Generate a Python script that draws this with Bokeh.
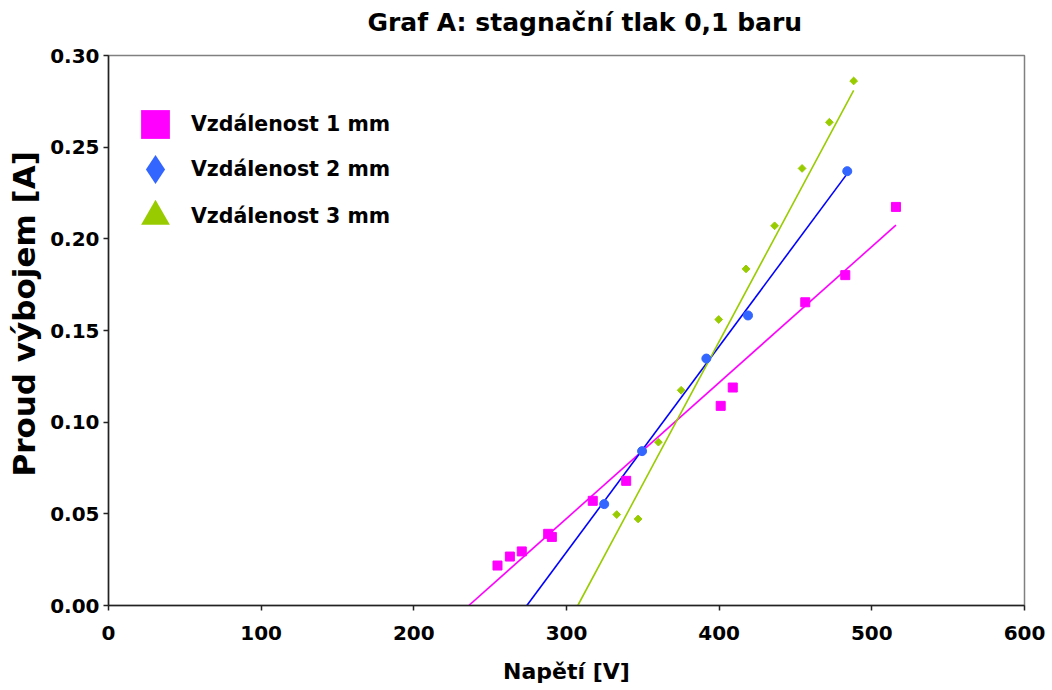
import numpy as np
from bokeh.plotting import figure
from bokeh.models import (Range1d, Legend, LegendItem, FixedTicker, PrintfTickFormatter, Title)
from bokeh.embed import file_html
from bokeh.resources import INLINE

title_text = "Graf A: stagnační tlak 0,1 baru"
x_label = "Napětí [V]"
y_label = "Proud výbojem [A]"
series_names = ["Vzdálenost 1 mm", "Vzdálenost 2 mm", "Vzdálenost 3 mm"]

# Vzdálenost 1 mm
u1 = [254.8, 262.9, 270.7, 288.0, 290.4, 317.2, 339.1, 401.0, 408.9, 456.4, 482.6, 515.8]
i1 = [0.0218, 0.0267, 0.0295, 0.0391, 0.0374, 0.0571, 0.0680, 0.1089, 0.1189, 0.1654, 0.1802, 0.2174]
# Vzdálenost 2 mm
u2 = [324.7, 349.5, 391.6, 418.9, 483.9]
i2 = [0.0553, 0.0842, 0.1347, 0.1582, 0.2369]
# Vzdálenost 3 mm
u3 = [332.9, 346.9, 360.2, 375.1, 399.7, 417.6, 436.3, 454.3, 472.2, 488.1]
i3 = [0.0496, 0.0472, 0.0891, 0.1174, 0.1560, 0.1836, 0.2071, 0.2384, 0.2636, 0.2861]

# linear trend lines (slope, intercept)
trend_slope = [0.0007415, 0.0011225, 0.001555]
trend_intercept = [-0.1750, -0.3076, -0.4780]

x_ticks = [0, 100, 200, 300, 400, 500, 600]
y_ticks = [0.0, 0.05, 0.10, 0.15, 0.20, 0.25, 0.30]

FONT = "DejaVu Sans"

p = figure(width=1052, height=690, output_backend="svg", toolbar_location=None,
           x_range=Range1d(0, 600), y_range=Range1d(0, 0.30),
           min_border_left=108, min_border_right=28, min_border_top=55, min_border_bottom=85,
           background_fill_color="white", border_fill_color="white")

# blank spacer between plot area and title, then the title itself
p.add_layout(Title(text=" ", text_font=FONT, text_font_size="10px", standoff=6), "above")
p.add_layout(Title(text=title_text, text_font=FONT, text_font_size="25px", text_font_style="bold",
                   text_color="black", align="left", offset=259, standoff=0), "above")

p.xgrid.visible = False
p.ygrid.visible = False
p.outline_line_color = "#808080"
p.outline_line_width = 1.5

for ax in (p.xaxis[0], p.yaxis[0]):
    ax.axis_line_color = "#222222"
    ax.axis_line_width = 1.5
    ax.major_tick_line_color = "#222222"
    ax.major_tick_line_width = 1.5
    ax.major_tick_out = 5
    ax.major_tick_in = 0
    ax.minor_tick_line_color = None
    ax.major_label_text_font = FONT
    ax.major_label_text_font_size = "20px"
    ax.major_label_text_font_style = "bold"
    ax.major_label_text_color = "black"
    ax.axis_label_text_font = FONT
    ax.axis_label_text_font_style = "bold"
    ax.axis_label_text_color = "black"

p.xaxis[0].ticker = FixedTicker(ticks=x_ticks)
p.yaxis[0].ticker = FixedTicker(ticks=y_ticks)
p.xaxis[0].formatter = PrintfTickFormatter(format="%d")
p.yaxis[0].formatter = PrintfTickFormatter(format="%.2f")
p.xaxis[0].axis_label = x_label
p.xaxis[0].axis_label_text_font_size = "22px"
p.xaxis[0].major_label_standoff = 15
p.yaxis[0].major_label_standoff = 4
p.xaxis[0].axis_label_standoff = 16

# y-axis title placed as a side title so it can sit where the original has it
p.add_layout(Title(text=y_label, text_font=FONT, text_font_size="31px", text_font_style="bold",
                   text_color="black", align="left", offset=129, vertical_align="top",
                   standoff=8), "left")

pink = "#FF00FF"
blue_pt = "#3366FF"
blue_ln = "#0000FF"
green = "#99CC00"

series = [(u1, i1), (u2, i2), (u3, i3)]
line_colors = [pink, blue_ln, green]
for k, (u, cur) in enumerate(series):
    m, b = trend_slope[k], trend_intercept[k]
    xs = np.array([-b / m, max(u)])
    p.line(xs, m * xs + b, line_color=line_colors[k], line_width=1.6)

p.scatter(u1, i1, marker="square", size=9, fill_color=pink, line_color=pink)
p.scatter(u2, i2, marker="circle", size=9, fill_color=blue_pt, line_color=blue_pt)
p.scatter(u3, i3, marker="square", angle=np.pi / 4, size=5.5, fill_color=green, line_color=green)

# legend symbols (different from the data markers, as in the original); zero-size in the plot,
# the legend draws them at its own glyph size
legend_markers = ["square", "diamond", "triangle"]
legend_colors = [pink, blue_pt, green]
legend_locs = [(11, 445), (11, 400), (11, 353)]
for k, (u, cur) in enumerate(series):
    r = p.scatter(u, cur, marker=legend_markers[k], size=0,
                  fill_color=legend_colors[k], line_color=None)
    lg = Legend(items=[LegendItem(label=series_names[k], renderers=[r])], location=legend_locs[k],
                glyph_width=72, glyph_height=72, label_standoff=0, padding=0, margin=0,
                spacing=0, border_line_color=None, background_fill_alpha=0,
                label_text_font=FONT, label_text_font_size="20.5px", label_text_font_style="bold",
                label_text_color="black")
    p.add_layout(lg, "center")

open("out.html", "w").write(file_html(p, INLINE))
